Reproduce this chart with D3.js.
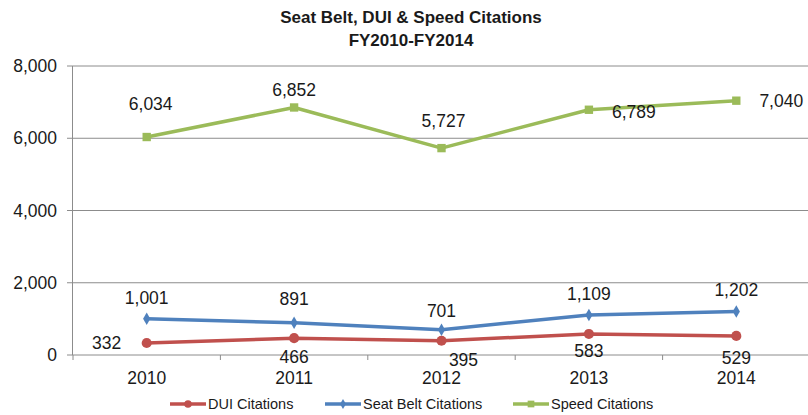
<!DOCTYPE html>
<html lang="en">
<head>
    <meta charset="UTF-8">
    <title>Seat Belt, DUI & Speed Citations</title>
    <script src="https://d3js.org/d3.v7.min.js"></script>
    <style>
        body { margin: 0; background: #fff; }
        svg text { font-family: "Liberation Sans", Arial, sans-serif; fill: #1a1a1a; }
    </style>
</head>
<body>
    <div id="chart"></div>

    <script>
        // chart values
        const years = ["2010", "2011", "2012", "2013", "2014"];
        const duiCitations = [332, 466, 395, 583, 529];
        const seatBeltCitations = [1001, 891, 701, 1109, 1202];
        const speedCitations = [6034, 6852, 5727, 6789, 7040];
        const yTicks = [0, 2000, 4000, 6000, 8000];
        const titleLines = ["Seat Belt, DUI & Speed Citations", "FY2010-FY2014"];

        const width = 808, height = 415;
        const margin = { top: 66, right: -2, bottom: 60, left: 73 };

        const svg = d3.select("#chart")
            .append("svg")
            .attr("width", width)
            .attr("height", height);

        const x = d3.scaleBand()
            .domain(years)
            .range([margin.left, width - margin.right]);

        const y = d3.scaleLinear()
            .domain([0, 8000])
            .range([height - margin.bottom, margin.top]);

        const cx = d => x(d) + x.bandwidth() / 2;

        // title
        svg.selectAll(".title")
            .data(titleLines)
            .join("text")
            .attr("class", "title")
            .attr("x", 411)
            .attr("y", (d, i) => 23 + i * 23)
            .attr("text-anchor", "middle")
            .attr("font-weight", "bold")
            .attr("font-size", 17)
            .text(d => d);

        // gridlines
        svg.append("g")
            .selectAll("line")
            .data(yTicks)
            .join("line")
            .attr("x1", margin.left - 6)
            .attr("x2", width)
            .attr("y1", d => y(d))
            .attr("y2", d => y(d))
            .attr("stroke", "#8c8c8c")
            .attr("stroke-width", 1);

        // y axis line
        svg.append("line")
            .attr("x1", margin.left - 0.5).attr("x2", margin.left - 0.5)
            .attr("y1", y(8000)).attr("y2", y(0))
            .attr("stroke", "#8c8c8c");

        // y tick labels
        svg.append("g")
            .selectAll("text")
            .data(yTicks)
            .join("text")
            .attr("x", 57)
            .attr("y", d => y(d))
            .attr("dy", "0.35em")
            .attr("text-anchor", "end")
            .attr("font-size", 17.5)
            .text(d => d3.format(",")(d));

        // x ticks at band boundaries
        const bounds = years.map(d => x(d)).concat([x(years[years.length - 1]) + x.bandwidth()]);
        svg.append("g")
            .selectAll("line")
            .data(bounds)
            .join("line")
            .attr("x1", d => d).attr("x2", d => d)
            .attr("y1", y(0)).attr("y2", y(0) + 5)
            .attr("stroke", "#8c8c8c");

        svg.append("g")
            .selectAll("text")
            .data(years)
            .join("text")
            .attr("x", d => cx(d))
            .attr("y", y(0) + 23)
            .attr("dy", "0.35em")
            .attr("text-anchor", "middle")
            .attr("font-size", 17.5)
            .text(d => d);

        // label offsets per point (styling, not data)
        const series = [
            { name: "DUI Citations", values: duiCitations, color: "#c0504d", marker: d3.symbolCircle, size: 80, legendSize: 45,
              labelDx: [-40, 0, 22, 0, 0], labelDy: [0, 19, 19, 17, 22] },
            { name: "Seat Belt Citations", values: seatBeltCitations, color: "#4f81bd", marker: d3.symbolDiamond, size: 45, legendSize: 30,
              labelDx: [0, 0, 0, 0, 0], labelDy: [-21, -24, -19, -21, -22] },
            { name: "Speed Citations", values: speedCitations, color: "#9bbb59", marker: d3.symbolSquare, size: 70, legendSize: 45,
              labelDx: [4, 0, 2, 45, 45], labelDy: [-33, -18, -27, 2, 0] }
        ];

        const line = d3.line()
            .x((d, i) => cx(years[i]))
            .y(d => y(d));

        series.forEach(s => {
            const g = svg.append("g");
            g.append("path")
                .datum(s.values)
                .attr("fill", "none")
                .attr("stroke", s.color)
                .attr("stroke-width", 3.5)
                .attr("stroke-linejoin", "round")
                .attr("d", line);

            g.selectAll("path.pt")
                .data(s.values)
                .join("path")
                .attr("class", "pt")
                .attr("transform", (d, i) => `translate(${cx(years[i])},${y(d)})`)
                .attr("d", d3.symbol().type(s.marker).size(s.size))
                .attr("fill", s.color);

            g.selectAll("text")
                .data(s.values)
                .join("text")
                .attr("x", (d, i) => cx(years[i]) + s.labelDx[i])
                .attr("y", (d, i) => y(d) + s.labelDy[i])
                .attr("dy", "0.35em")
                .attr("text-anchor", "middle")
                .attr("font-size", 17.5)
                .text(d => d3.format(",")(d));
        });

        // legend
        const legendX = [170, 325, 513];
        const legend = svg.append("g")
            .selectAll("g")
            .data(series)
            .join("g")
            .attr("transform", (d, i) => `translate(${legendX[i]},404)`);

        legend.append("line")
            .attr("x1", 0).attr("x2", 36)
            .attr("stroke", d => d.color)
            .attr("stroke-width", 3.5);

        legend.append("path")
            .attr("transform", "translate(18,0)")
            .attr("d", d => d3.symbol().type(d.marker).size(d.legendSize)())
            .attr("fill", d => d.color);

        legend.append("text")
            .attr("x", 38)
            .attr("dy", "0.35em")
            .attr("font-size", 14.5)
            .text(d => d.name);
    </script>
</body>
</html>
